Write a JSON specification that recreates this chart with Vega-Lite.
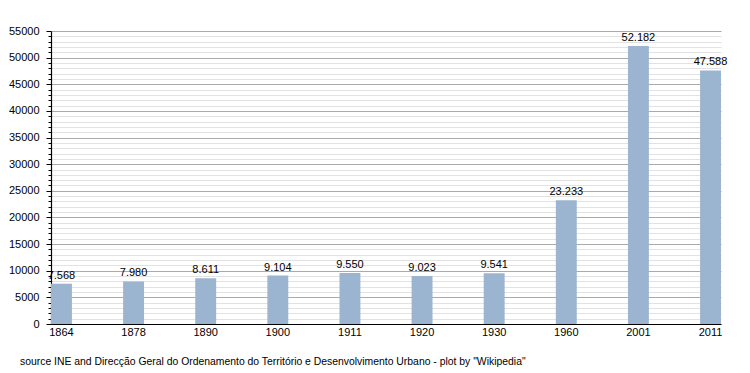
{
  "$schema": "https://vega.github.io/schema/vega-lite/v6.json",
  "autosize": "none",
  "width": 670,
  "height": 293,
  "padding": {"left": 51, "top": 31, "right": 29, "bottom": 49},
  "background": "white",
  "config": {
    "view": {"stroke": null},
    "font": "Liberation Sans",
    "locale": {"number": {"decimal": ",", "thousands": ".", "grouping": [3], "currency": ["", ""]}}
  },
  "title": {
    "text": "source INE and Direcção Geral do Ordenamento do Território e Desenvolvimento Urbano - plot by \"Wikipedia\"",
    "orient": "bottom",
    "anchor": "start",
    "frame": "group",
    "dx": -31,
    "offset": 20,
    "fontSize": 10.4,
    "fontWeight": "normal",
    "color": "#000",
    "font": "Liberation Sans"
  },
  "data": {
    "values": [
      {"year": "1864", "pop": 7568},
      {"year": "1878", "pop": 7980},
      {"year": "1890", "pop": 8611},
      {"year": "1900", "pop": 9104},
      {"year": "1911", "pop": 9550},
      {"year": "1920", "pop": 9023},
      {"year": "1930", "pop": 9541},
      {"year": "1960", "pop": 23233},
      {"year": "2001", "pop": 52182},
      {"year": "2011", "pop": 47588}
    ]
  },
  "encoding": {
    "x": {
      "field": "year",
      "type": "nominal",
      "sort": null,
      "scale": {"paddingInner": 0.71, "paddingOuter": 0},
      "axis": {
        "title": null,
        "labelAngle": 0,
        "labelFontSize": 11,
        "labelColor": "#000",
        "labelPadding": 2,
        "ticks": false,
        "domainColor": "#000",
        "domainWidth": 1.2,
        "grid": false
      }
    },
    "y": {
      "field": "pop",
      "type": "quantitative",
      "scale": {"domain": [0, 55000], "nice": false},
      "axis": {
        "title": null,
        "values": [0,1000,2000,3000,4000,5000,6000,7000,8000,9000,10000,11000,12000,13000,14000,15000,16000,17000,18000,19000,20000,21000,22000,23000,24000,25000,26000,27000,28000,29000,30000,31000,32000,33000,34000,35000,36000,37000,38000,39000,40000,41000,42000,43000,44000,45000,46000,47000,48000,49000,50000,51000,52000,53000,54000,55000],
        "labelExpr": "datum.value % 5000 === 0 ? format(datum.value, 'd') : ''",
        "labelFontSize": 11,
        "labelColor": "#000",
        "labelPadding": 7,
        "tickColor": "#000",
        "tickSize": {"condition": {"test": "datum.value % 5000 === 0", "value": 5}, "value": 3},
        "domainColor": "#000",
        "domainWidth": 1.2,
        "grid": true,
        "gridColor": {"condition": {"test": "datum.value % 5000 === 0", "value": "#aaaaaa"}, "value": "#e2e2e2"},
        "gridWidth": 1
      }
    }
  },
  "layer": [
    {"mark": {"type": "bar", "color": "#9bb4cf"}},
    {
      "mark": {"type": "text", "dy": -3, "fontSize": 11, "color": "#000", "baseline": "bottom"},
      "encoding": {"text": {"field": "pop", "type": "quantitative", "format": ",d"}}
    }
  ]
}
